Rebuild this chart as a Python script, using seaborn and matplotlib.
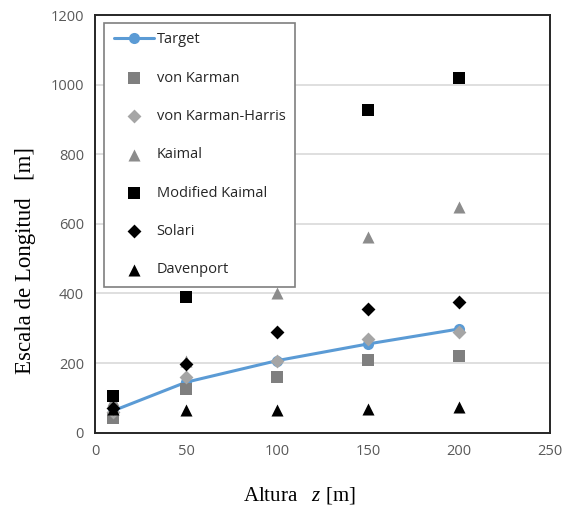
import matplotlib
matplotlib.use("Agg")
import matplotlib.pyplot as plt
import seaborn as sns
import pandas as pd

# ---- data ----
z = [10, 50, 100, 150, 200]
target = [63, 145, 207, 255, 298]
von_karman = [42, 125, 161, 209, 219]
vk_harris = [60, 160, 207, 270, 289]
kaimal = [95, 205, 400, 563, 648]
mod_kaimal = [105, 390, 700, 927, 1020]
solari = [72, 198, 288, 356, 376]
davenport = [68, 65, 65, 68, 73]

x_ticks = [0, 50, 100, 150, 200, 250]
y_ticks = [0, 200, 400, 600, 800, 1000, 1200]

sns.set_theme(style="white")
plt.rcParams['font.family'] = ['Open Sans', 'DejaVu Sans']
plt.rcParams['mathtext.fontset'] = 'custom'
plt.rcParams['mathtext.it'] = 'Liberation Serif:italic'
plt.rcParams['mathtext.rm'] = 'Liberation Serif'

fig = plt.figure(figsize=(5.74, 5.08), dpi=100)
ax = fig.add_axes([95/574, 1-432.7/508, 455/574, 417.7/508])

df_t = pd.DataFrame({"z": z, "v": target})
sns.lineplot(data=df_t, x="z", y="v", ax=ax, color="#5B9BD5", linewidth=2.2,
             marker="o", markersize=8, markeredgewidth=0, label="Target", zorder=3)

series = [
    ("von Karman", von_karman, "s", "#7F7F7F", 70),
    ("von Karman-Harris", vk_harris, "D", "#A5A5A5", 50),
    ("Kaimal", kaimal, "^", "#8C8C8C", 75),
    ("Modified Kaimal", mod_kaimal, "s", "#000000", 70),
    ("Solari", solari, "D", "#000000", 50),
    ("Davenport", davenport, "^", "#000000", 75),
]
for i, (name, vals, mk, col, sz) in enumerate(series):
    sns.scatterplot(x=z, y=vals, ax=ax, marker=mk, color=col, s=sz,
                    linewidth=0, label=name, zorder=4 + i)

ax.set_xlim(0, 250)
ax.set_ylim(0, 1200)
ax.set_xticks(x_ticks)
ax.set_yticks(y_ticks)
ax.tick_params(axis='both', length=0, labelsize=10.5, labelcolor="#595959", pad=8)
ax.grid(axis='y', color="#D9D9D9", linewidth=1.2)
ax.grid(axis='x', visible=False)
for sp in ax.spines.values():
    sp.set_color("#262626")
    sp.set_linewidth(1.4)
    sp.set_zorder(30)

ax.set_xlabel("Altura   $z$ [m]", family="Liberation Serif", fontsize=15, color="#000000")
ax.set_ylabel("Escala de Longitud   [m]", family="Liberation Serif", fontsize=16.5, color="#000000")
ax.xaxis.set_label_coords(0.45, -0.125)
ax.yaxis.set_label_coords(-0.13, 0.413)

leg = ax.legend(loc="upper left", bbox_to_anchor=(0.02, 0.981), frameon=True,
                fontsize=10.5, labelspacing=1.6, handlelength=2.8, handletextpad=0.15,
                borderpad=0.65, fancybox=False, borderaxespad=0)
leg.set_zorder(20)
leg.get_frame().set_edgecolor("#7F7F7F")
leg.get_frame().set_linewidth(1.2)
leg.get_frame().set_alpha(1)
for t in leg.get_texts():
    t.set_color("#262626")

fig.savefig("out.png", dpi=100)
